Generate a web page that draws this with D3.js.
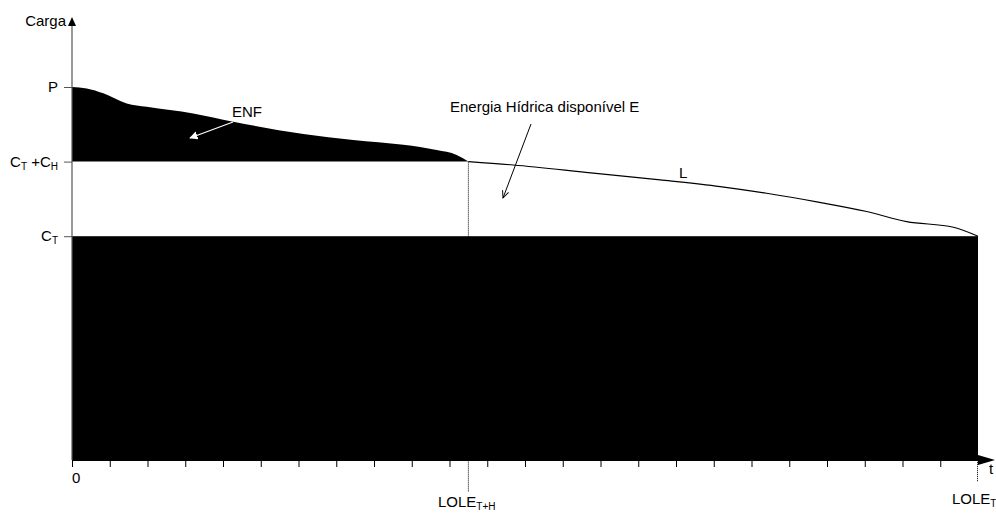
<!DOCTYPE html>
<html>
<head>
<meta charset="utf-8">
<script src="https://cdn.jsdelivr.net/npm/d3@7"></script>
<style>
  body { margin: 0; background: #fff; }
  text { font-family: "Liberation Sans", Arial, sans-serif; font-size: 15px; fill: #000; }
</style>
</head>
<body>
<svg id="chart" width="996" height="513"></svg>
<script>
// load duration curve (t in axis units, load in % of P)
const tPoints    = [0, 0.39, 0.83, 1.45, 1.98, 3.21, 4.27, 6.13, 7.45, 8.78, 9.66, 10.19, 10.5,
                    11.69, 13.81, 15.58, 17.17, 18.4, 19.73, 21.05, 22.11, 23.35, 24];
const loadValues = [100, 99.6, 98.3, 95.6, 94.7, 92.9, 90.7, 87.4, 85.8, 84.5, 83.1, 81.8, 80,
                    79.1, 76.9, 75.1, 73.3, 71.5, 69.2, 66.6, 63.9, 62.4, 60];
const levelNames  = ["P", "CT+CH", "CT"];
const levelValues = [100, 80, 60];
const xTicks = d3.range(0, 24);
const loleNames  = ["T+H", "T"];
const loleValues = [10.5, 24];

const svg = d3.select("#chart");
const x = d3.scaleLinear().domain([0, 24]).range([72, 978]);
const y = d3.scaleLinear().domain([0, 118.5]).range([460, 18]);

const pts = tPoints.map((t, i) => ({t: t, v: loadValues[i]}));
const pCH = levelValues[1], pCT = levelValues[2];

// dotted LOLE lines
svg.append("line").attr("x1", x(loleValues[0])).attr("x2", x(loleValues[0]))
  .attr("y1", y(pCH)).attr("y2", 492)
  .style("stroke", "#000").style("stroke-width", 1).style("stroke-dasharray", "1,1");
svg.append("line").attr("x1", x(loleValues[1]) - 0.5).attr("x2", x(loleValues[1]) - 0.5)
  .attr("y1", y(pCT)).attr("y2", 482)
  .style("stroke", "#000").style("stroke-width", 1).style("stroke-dasharray", "1,1");

// energia nao fornecida (above CT+CH)
const area = d3.area().x(d => x(d.t)).y0(y(pCH)).y1(d => y(d.v)).curve(d3.curveMonotoneX);
svg.append("path").datum(pts.filter(d => d.t <= loleValues[0]))
  .attr("d", area).style("fill", "#000");

// L curve beyond LOLE T+H
const line = d3.line().x(d => x(d.t)).y(d => y(d.v)).curve(d3.curveMonotoneX);
svg.append("path").datum(pts.filter(d => d.t >= loleValues[0]))
  .attr("d", line).style("fill", "none").style("stroke", "#000").style("stroke-width", 1.1);

// thermal capacity block
svg.append("rect").attr("x", x(0)).attr("y", y(pCT))
  .attr("width", x(24) - x(0)).attr("height", y(0) - y(pCT)).style("fill", "#000");

// x axis
const xAxis = svg.append("g").attr("transform", "translate(0," + y(0) + ")")
  .call(d3.axisBottom(x).tickValues(xTicks).tickSize(7).tickSizeOuter(0).tickFormat(""));
xAxis.select(".domain").style("stroke", "#000");
xAxis.selectAll(".tick line").style("stroke", "#000");
svg.append("line").attr("x1", x(24)).attr("x2", 980).attr("y1", y(0)).attr("y2", y(0)).style("stroke", "#000");
svg.append("path").attr("d", "M978,455L995,460L978,465Z").style("fill", "#000");
svg.append("text").attr("x", 989).attr("y", 474).text("t");
svg.append("text").attr("x", x(0)).attr("y", 483).text("0");

// y axis
const yAxis = svg.append("g").attr("transform", "translate(" + x(0) + ",0)")
  .call(d3.axisLeft(y).tickValues(levelValues).tickSize(8).tickPadding(6).tickSizeOuter(0).tickFormat(""));
yAxis.select(".domain").attr("d", "M0," + y(0) + "V24").style("stroke", "#555").style("stroke-width", 1.2);
yAxis.selectAll(".tick line").style("stroke", "#555");
svg.append("path").attr("d", "M68,26L72,17L76,26Z").style("fill", "#000");
svg.append("text").attr("x", 66).attr("y", 26).attr("text-anchor", "end").text("Carga");

// level labels with subscripts
function subLabel(sel, parts) {
  parts.forEach(p => {
    const ts = sel.append("tspan").text(p[0]);
    if (p[1]) ts.style("font-size", "10px").attr("dy", 3);
    else if (sel.selectAll("tspan").size() > 1) ts.attr("dy", -3);
  });
}
const labelParts = {
  "P": [["P"]],
  "CT+CH": [["C"], ["T", true], [" +C"], ["H", true]],
  "CT": [["C"], ["T", true]]
};
levelNames.forEach((n, i) => {
  const t = svg.append("text").attr("x", 58).attr("y", y(levelValues[i]) + 5).attr("text-anchor", "end");
  subLabel(t, labelParts[n]);
});

// LOLE labels
const lole1 = svg.append("text").attr("x", 438).attr("y", 507);
subLabel(lole1, [["LOLE"], [loleNames[0], true]]);
const lole2 = svg.append("text").attr("x", 952).attr("y", 504);
subLabel(lole2, [["LOLE"], [loleNames[1], true]]);

// annotations
svg.append("defs").html(
  '<marker id="wh" viewBox="0 0 10 10" refX="9" refY="5" markerWidth="7" markerHeight="7" orient="auto">' +
  '<path d="M0,0L10,5L0,10Z" fill="#fff"/></marker>' +
  '<marker id="bk" viewBox="0 0 10 10" refX="9" refY="5" markerWidth="8" markerHeight="8" orient="auto">' +
  '<path d="M0,1L9,5L0,9" fill="none" stroke="#000" stroke-width="1.2"/></marker>');
svg.append("text").attr("x", 232).attr("y", 117).text("ENF");
svg.append("line").attr("x1", 233).attr("y1", 122).attr("x2", 190).attr("y2", 138)
  .style("stroke", "#fff").style("stroke-width", 1.2).attr("marker-end", "url(#wh)");

svg.append("text").attr("x", 450).attr("y", 112).text("Energia Hídrica disponível E");
svg.append("line").attr("x1", 531).attr("y1", 124).attr("x2", 503).attr("y2", 198)
  .style("stroke", "#000").style("stroke-width", 1).attr("marker-end", "url(#bk)");

svg.append("text").attr("x", 679).attr("y", 178).text("L");
</script>
</body>
</html>
